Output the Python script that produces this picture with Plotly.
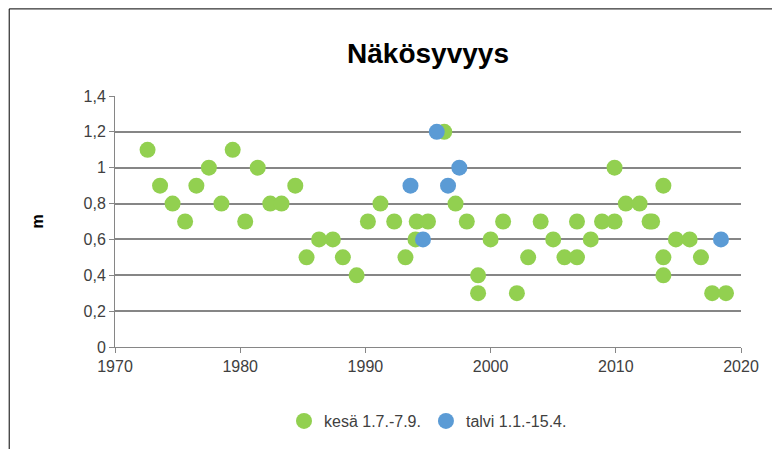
import plotly.graph_objects as go

kesa_x = [1972.6,1973.6,1974.6,1975.6,1976.5,1977.5,1978.5,1979.4,1980.4,1981.4,1982.4,1983.3,1984.4,
          1985.3,1986.3,1987.4,1988.2,1989.3,1990.2,1991.2,1992.3,1993.2,1994.1,1994.0,1995.0,1996.3,
          1997.2,1998.1,1999.0,1999.0,2000.0,2001.0,2002.1,2003.0,2004.0,2005.0,2005.9,2006.9,2006.9,
          2008.0,2008.9,2009.9,2009.9,2010.8,2011.9,2012.7,2012.9,2013.8,2013.8,2013.8,2014.8,2015.9,
          2016.8,2017.7,2018.8]
kesa_y = [1.1,0.9,0.8,0.7,0.9,1.0,0.8,1.1,0.7,1.0,0.8,0.8,0.9,
          0.5,0.6,0.6,0.5,0.4,0.7,0.8,0.7,0.5,0.7,0.6,0.7,1.2,
          0.8,0.7,0.4,0.3,0.6,0.7,0.3,0.5,0.7,0.6,0.5,0.5,0.7,
          0.6,0.7,0.7,1.0,0.8,0.8,0.7,0.7,0.9,0.5,0.4,0.6,0.6,
          0.5,0.3,0.3]
talvi_x = [1993.6,1994.6,1995.7,1996.6,1997.5,2018.4]
talvi_y = [0.9,0.6,1.2,0.9,1.0,0.6]

fig = go.Figure()
fig.add_trace(go.Scatter(x=kesa_x, y=kesa_y, mode="markers", name="kesä 1.7.-7.9.",
                         marker=dict(color="#92D050", size=16)))
fig.add_trace(go.Scatter(x=talvi_x, y=talvi_y, mode="markers", name="talvi 1.1.-15.4.",
                         marker=dict(color="#5B9BD5", size=16)))
fig.update_layout(
    width=780, height=449, separators=", ",
    paper_bgcolor="white", plot_bgcolor="white",
    font=dict(family="Liberation Sans, Arial", size=16, color="#404040"),
    margin=dict(l=107, r=47, t=88, b=110, autoexpand=False),
    title=dict(text="<b>Näkösyvyys</b>", x=0.5, y=0.9, xref="paper", yref="container",
               xanchor="center", yanchor="middle",
               font=dict(size=28, color="black", family="Liberation Sans, Arial")),
    xaxis=dict(range=[1970, 2020], dtick=10, showgrid=False, showline=True, linecolor="#868686",
               ticks="outside", tickcolor="#868686", ticklen=5, zeroline=False),
    yaxis=dict(range=[0, 1.4], dtick=0.2, showgrid=True, gridcolor="#868686", gridwidth=1.5,
               showline=True, linecolor="#868686", ticks="outside", tickcolor="#868686", ticklen=5,
               zeroline=False, tickformat=".1~f",
               title=dict(text="<b>m</b>", font=dict(size=16, color="black"), standoff=35)),
    legend=dict(orientation="h", x=0.5, xanchor="center", y=-0.295, yanchor="middle",
                font=dict(size=16, color="#404040")),
    shapes=[dict(type="rect", xref="paper", yref="paper", x0=-0.169, x1=1.072, y0=-0.430, y1=1.347,
                 line=dict(color="black", width=1))],
)
fig.write_html("out.html")
